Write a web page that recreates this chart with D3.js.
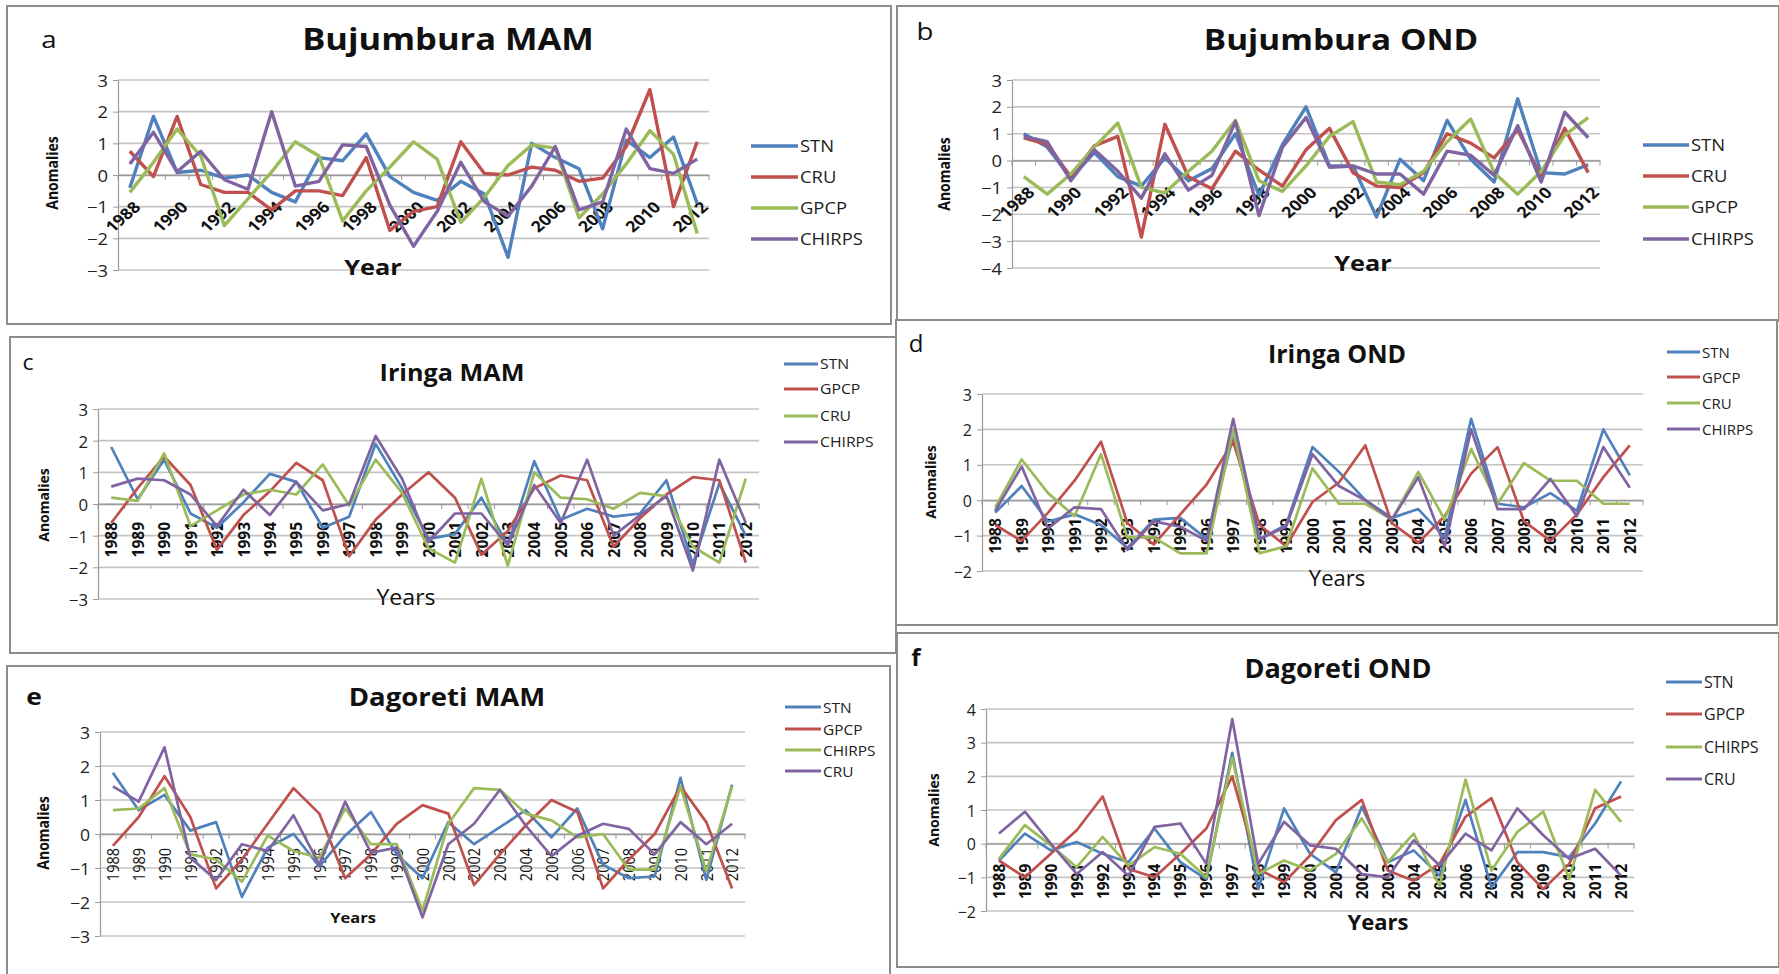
<!DOCTYPE html>
<html>
<head>
<meta charset="utf-8">
<script src="https://cdn.jsdelivr.net/npm/d3@7"></script>
<style>
  html, body { margin: 0; padding: 0; background: #fff; }
  svg { display: block; font-family: "Open Sans", "Liberation Sans", sans-serif; }
</style>
</head>
<body>
<svg id="chart" width="1779" height="974"></svg>
<script>
// Rainfall anomaly series, 1988-2012, for three stations and two seasons
const years = [1988, 1989, 1990, 1991, 1992, 1993, 1994, 1995, 1996, 1997, 1998, 1999, 2000,
               2001, 2002, 2003, 2004, 2005, 2006, 2007, 2008, 2009, 2010, 2011, 2012];
const evenYears = [1988, 1990, 1992, 1994, 1996, 1998, 2000, 2002, 2004, 2006, 2008, 2010, 2012];

// Bujumbura MAM
const bujMamSTN    = [-0.4, 1.85, 0.08, 0.15, -0.1, 0.0, -0.55, -0.85, 0.55, 0.45, 1.3, -0.05, -0.55, -0.8, -0.2, -0.6, -2.6, 1.0, 0.55, 0.2, -1.7, 1.1, 0.55, 1.2, -0.9];
const bujMamCRU    = [0.75, -0.05, 1.85, -0.3, -0.55, -0.55, -1.1, -0.5, -0.5, -0.65, 0.55, -1.75, -1.15, -1.0, 1.05, 0.05, 0.0, 0.25, 0.15, -0.2, -0.1, 0.9, 2.7, -1.0, 1.05];
const bujMamGPCP   = [-0.55, 0.4, 1.45, 0.6, -1.6, -0.75, 0.1, 1.05, 0.6, -1.45, -0.5, 0.25, 1.05, 0.5, -1.5, -0.7, 0.3, 0.95, 0.85, -1.35, -0.6, 0.35, 1.4, 0.65, -1.85];
const bujMamCHIRPS = [0.35, 1.35, 0.1, 0.75, -0.15, -0.45, 2.0, -0.35, -0.2, 0.95, 0.9, -0.95, -2.25, -1.15, 0.4, -0.85, -1.3, -0.35, 0.9, -1.1, -0.85, 1.45, 0.2, 0.05, 0.5];

// Bujumbura OND
const bujOndSTN    = [1.0, 0.5, -0.65, 0.3, -0.6, -0.95, 0.1, -0.75, -0.3, 1.0, -1.3, 0.6, 2.0, -0.2, -0.2, -2.1, 0.05, -0.75, 1.5, 0.05, -0.8, 2.3, -0.45, -0.5, -0.15];
const bujOndCRU    = [0.85, 0.6, -0.6, 0.55, 0.9, -2.85, 1.35, -0.6, -1.05, 0.35, -0.35, -0.95, 0.4, 1.2, -0.45, -0.95, -1.0, -0.45, 1.0, 0.65, 0.1, 1.15, -0.6, 1.2, -0.45];
const bujOndGPCP   = [-0.6, -1.25, -0.5, 0.5, 1.4, -1.0, -1.2, -0.4, 0.35, 1.5, -0.75, -1.15, -0.2, 0.9, 1.45, -0.8, -0.9, -0.4, 0.7, 1.55, -0.45, -1.25, -0.4, 0.95, 1.6];
const bujOndCHIRPS = [0.9, 0.7, -0.75, 0.4, -0.4, -1.4, 0.25, -1.1, -0.55, 1.45, -2.05, 0.5, 1.6, -0.25, -0.2, -0.5, -0.5, -1.25, 0.35, 0.2, -0.55, 1.3, -0.8, 1.8, 0.85];

// Iringa MAM
const irMamSTN    = [1.8, 0.15, 1.4, -0.3, -0.75, 0.05, 0.95, 0.7, -0.75, -0.4, 1.9, 0.5, -1.1, -0.95, 0.2, -1.3, 1.35, -0.5, -0.15, -0.4, -0.3, 0.75, -1.9, 0.65, -1.0];
const irMamGPCP   = [-0.6, 0.5, 1.5, 0.6, -1.45, -0.35, 0.4, 1.3, 0.75, -1.65, -0.5, 0.3, 1.0, 0.2, -1.6, -0.85, 0.5, 0.9, 0.75, -1.35, -0.45, 0.3, 0.85, 0.75, -1.85];
const irMamCRU    = [0.2, 0.1, 1.6, -0.7, -0.2, 0.3, 0.45, 0.3, 1.25, -0.05, 1.4, 0.35, -1.4, -1.85, 0.8, -1.95, 1.0, 0.2, 0.15, -0.15, 0.35, 0.25, -1.35, -1.85, 0.8];
const irMamCHIRPS = [0.55, 0.8, 0.75, 0.3, -0.7, 0.45, -0.35, 0.7, -0.2, 0.0, 2.15, 0.8, -1.2, -0.3, -0.3, -1.3, 0.6, -0.6, 1.4, -1.0, -0.35, 0.25, -2.1, 1.4, -0.6];

// Iringa OND
const irOndSTN    = [-0.35, 0.4, -0.6, -0.4, -0.7, -1.35, -0.55, -0.5, -1.1, 1.8, -1.1, -0.7, 1.5, 0.8, 0.0, -0.5, -0.25, -1.05, 2.3, -0.1, -0.2, 0.2, -0.3, 2.0, 0.7];
const irOndGPCP   = [-0.7, -1.15, -0.35, 0.55, 1.65, -0.65, -1.25, -0.4, 0.45, 1.65, -0.7, -1.3, -0.05, 0.5, 1.55, -0.65, -1.2, -0.45, 0.75, 1.5, -0.6, -1.15, -0.4, 0.65, 1.55];
const irOndCRU    = [-0.2, 1.15, 0.2, -0.45, 1.3, -1.05, -1.05, -1.5, -1.5, 2.0, -1.5, -1.3, 0.9, -0.1, -0.1, -0.55, 0.8, -0.55, 1.45, -0.1, 1.05, 0.55, 0.55, -0.1, -0.1];
const irOndCHIRPS = [-0.3, 0.95, -0.8, -0.2, -0.25, -1.4, -0.6, -0.75, -1.15, 2.3, -1.1, -0.75, 1.3, 0.4, 0.0, -0.55, 0.65, -1.3, 2.0, -0.25, -0.25, 0.6, -0.45, 1.5, 0.35];

// Dagoreti MAM
const dagMamSTN    = [1.8, 0.7, 1.15, 0.1, 0.35, -1.85, -0.4, 0.0, -0.95, -0.05, 0.65, -0.6, -1.3, 0.35, -0.3, 0.2, 0.7, -0.1, 0.75, -0.9, -1.3, -1.25, 1.65, -1.35, 1.45];
const dagMamGPCP   = [-0.35, 0.5, 1.7, 0.5, -1.6, -0.75, 0.3, 1.35, 0.6, -1.3, -0.6, 0.3, 0.85, 0.6, -1.5, -0.6, 0.25, 1.0, 0.65, -1.6, -0.75, 0.0, 1.4, 0.35, -1.6];
const dagMamCHIRPS = [0.7, 0.75, 1.35, -0.6, -0.75, -1.4, -0.05, -0.5, -0.7, 0.75, -0.3, -0.3, -2.25, 0.3, 1.35, 1.3, 0.6, 0.4, -0.1, 0.0, -1.05, -1.05, 1.4, -1.1, 1.4];
const dagMamCRU    = [1.4, 0.95, 2.55, -0.7, -1.35, -0.3, -0.5, 0.55, -0.9, 0.95, -0.55, -0.4, -2.45, -0.3, 0.3, 1.3, 0.25, -0.65, -0.05, 0.3, 0.15, -0.6, 0.35, -0.3, 0.3];

// Dagoreti OND
const dagOndSTN    = [-0.5, 0.3, -0.2, 0.05, -0.3, -0.55, 0.45, -0.55, -1.05, 2.7, -1.35, 1.05, -0.3, -0.85, 1.1, -0.55, -0.2, -0.95, 1.3, -1.3, -0.25, -0.25, -0.4, 0.6, 1.85];
const dagOndGPCP   = [-0.5, -1.0, -0.3, 0.4, 1.4, -0.75, -1.0, -0.3, 0.45, 2.0, -0.75, -1.15, -0.35, 0.7, 1.3, -0.8, -1.1, -0.6, 0.8, 1.35, -0.55, -1.35, -0.6, 1.05, 1.4];
const dagOndCHIRPS = [-0.45, 0.55, -0.05, -0.7, 0.2, -0.65, -0.1, -0.3, -1.0, 2.55, -0.9, -0.5, -0.8, -0.3, 0.75, -0.55, 0.3, -1.25, 1.9, -0.8, 0.35, 0.95, -1.05, 1.6, 0.65];
const dagOndCRU    = [0.3, 0.95, 0.0, -0.9, -0.25, -0.95, 0.5, 0.6, -0.6, 3.7, -0.6, 0.65, -0.05, -0.15, -0.9, -1.0, 0.1, -0.65, 0.3, -0.2, 1.05, 0.25, -0.45, -0.15, -0.95];

// Y-axis tick labels per panel
const ticksA = [-3, -2, -1, 0, 1, 2, 3];
const ticksB = [-4, -3, -2, -1, 0, 1, 2, 3];
const ticksC = [-3, -2, -1, 0, 1, 2, 3];
const ticksD = [-2, -1, 0, 1, 2, 3];
const ticksE = [-3, -2, -1, 0, 1, 2, 3];
const ticksF = [-2, -1, 0, 1, 2, 3, 4];

const COLORS = ["#4F81BD", "#C0504D", "#9BBB59", "#8064A2"];

const panels = [
  { letter: "a", title: "Bujumbura MAM", xTitle: "Year", ticks: ticksA,
    names: ["STN", "CRU", "GPCP", "CHIRPS"], data: [bujMamSTN, bujMamCRU, bujMamGPCP, bujMamCHIRPS],
    frame: [7, 6, 891, 324], plot: [118, 709, 80, 270], sx: 1.15,
    letterPos: [49, 48, 24, "normal"], titlePos: [448, 50, 30, "bold"],
    yLabPos: [52, 173], xTitlePos: [373, 275, 22, "bold"],
    legend: { x0: 751, x1: 798, ys: [146, 177, 208, 239], size: 16, sw: 3.5 },
    xLab: { mode: "diag", years: evenYears, size: 15.5, weight: "bold", dx: 7, dy: 29 },
    lw: 3.4 },
  { letter: "b", title: "Bujumbura OND", xTitle: "Year", ticks: ticksB,
    names: ["STN", "CRU", "GPCP", "CHIRPS"], data: [bujOndSTN, bujOndCRU, bujOndGPCP, bujOndCHIRPS],
    frame: [897, 6, 1779, 321], plot: [1012, 1600, 80, 268], sx: 1.15,
    letterPos: [925, 40, 24, "normal"], titlePos: [1341, 50, 29, "bold"],
    yLabPos: [944, 174], xTitlePos: [1363, 271, 22, "bold"],
    legend: { x0: 1643, x1: 1689, ys: [145, 176, 207, 239], size: 16, sw: 3.5 },
    xLab: { mode: "diag", years: evenYears, size: 15.5, weight: "bold", dx: 7, dy: 29 },
    lw: 3.4 },
  { letter: "c", title: "Iringa MAM", xTitle: "Years", ticks: ticksC,
    names: ["STN", "GPCP", "CRU", "CHIRPS"], data: [irMamSTN, irMamGPCP, irMamCRU, irMamCHIRPS],
    frame: [10, 337, 896, 653], plot: [98, 759, 409, 599], sx: 1.05,
    letterPos: [28, 370, 22, "normal"], titlePos: [452, 381, 24, "bold"],
    yLabPos: [43, 505], xTitlePos: [406, 605, 22, "normal"],
    legend: { x0: 784, x1: 818, ys: [364, 389, 416, 442], size: 15, sw: 3 },
    xLab: { mode: "vert", years: years, size: 15.5, weight: "bold", dy: 18 },
    lw: 2.7 },
  { letter: "d", title: "Iringa OND", xTitle: "Years", ticks: ticksD,
    names: ["STN", "GPCP", "CRU", "CHIRPS"], data: [irOndSTN, irOndGPCP, irOndCRU, irOndCHIRPS],
    frame: [896, 320, 1777, 625], plot: [982, 1643, 394, 571], sx: 1.0,
    letterPos: [916, 352, 24, "normal"], titlePos: [1337, 363, 25, "bold"],
    yLabPos: [930, 482], xTitlePos: [1337, 586, 22, "normal"],
    legend: { x0: 1667, x1: 1700, ys: [352, 377, 403, 429], size: 15, sw: 3 },
    xLab: { mode: "vert", years: years, size: 15.5, weight: "bold", dy: 18 },
    lw: 2.7 },
  { letter: "e", title: "Dagoreti MAM", xTitle: "Years", ticks: ticksE,
    names: ["STN", "GPCP", "CHIRPS", "CRU"], data: [dagMamSTN, dagMamGPCP, dagMamCHIRPS, dagMamCRU],
    frame: [7, 666, 890, 990], plot: [100, 745, 732, 936], sx: 1.1,
    letterPos: [34, 705, 24, "bold"], titlePos: [447, 706, 25, "bold"],
    yLabPos: [43, 833], xTitlePos: [353, 923, 15, "bold"],
    legend: { x0: 785, x1: 821, ys: [707, 729, 750, 771], size: 14, sw: 3 },
    xLab: { mode: "vert", years: years, size: 14.5, weight: "normal", dy: 14 },
    lw: 2.7 },
  { letter: "f", title: "Dagoreti OND", xTitle: "Years", ticks: ticksF,
    names: ["STN", "GPCP", "CHIRPS", "CRU"], data: [dagOndSTN, dagOndGPCP, dagOndCHIRPS, dagOndCRU],
    frame: [897, 633, 1779, 967], plot: [986, 1634, 709, 911], sx: 1.0,
    letterPos: [916, 666, 24, "bold"], titlePos: [1338, 678, 27, "bold"],
    yLabPos: [933, 810], xTitlePos: [1378, 930, 22, "bold"],
    legend: { x0: 1666, x1: 1702, ys: [682, 714, 747, 779], size: 16, sw: 3 },
    xLab: { mode: "vert", years: years, size: 15.5, weight: "bold", dy: 20 },
    lw: 2.7 }
];

const svg = d3.select("#chart");

// Text helper: positioned, horizontally stretched, optionally rotated
function addText(g, x, y, str, o) {
  return g.append("text")
    .attr("transform", `translate(${x},${y}) scale(${o.sx || 1},1) rotate(${o.rot || 0})`)
    .attr("text-anchor", o.anchor || "middle")
    .attr("dominant-baseline", o.baseline || "auto")
    .style("font-size", o.size + "px")
    .style("font-weight", o.weight || "normal")
    .style("fill", o.fill || "#111")
    .text(str);
}

panels.forEach(p => {
  const g = svg.append("g");
  const [fx0, fy0, fx1, fy1] = p.frame;
  g.append("rect")
    .attr("x", fx0).attr("y", fy0)
    .attr("width", fx1 - fx0).attr("height", fy1 - fy0)
    .attr("fill", "#fff").attr("stroke", "#8c8c8c").attr("stroke-width", 2);

  const [x0, x1, yTop, yBot] = p.plot;
  const x = d3.scaleBand().domain(years).range([x0, x1]).padding(0);
  const y = d3.scaleLinear().domain([d3.min(p.ticks), d3.max(p.ticks)]).range([yBot, yTop]);
  const cx = yr => x(yr) + x.bandwidth() / 2;

  // horizontal gridlines
  g.append("g").selectAll("line").data(p.ticks).join("line")
    .attr("x1", x0).attr("x2", x1)
    .attr("y1", d => y(d)).attr("y2", d => y(d))
    .attr("stroke", "#c4c4c4").attr("stroke-width", 1.6);

  // value axis
  const ya = g.append("g").attr("transform", `translate(${x0},0)`)
    .call(d3.axisLeft(y).tickValues(p.ticks).tickSize(5).tickSizeOuter(0).tickFormat(d3.format("d")));
  ya.select(".domain").attr("stroke", "#9a9a9a").attr("stroke-width", 1.2);
  ya.selectAll(".tick line").attr("stroke", "#9a9a9a");
  ya.selectAll(".tick text")
    .attr("x", null).attr("dy", null)
    .attr("dominant-baseline", "central")
    .attr("transform", `translate(-10,0) scale(${p.sx},1)`)
    .style("font-family", "'Open Sans', sans-serif")
    .style("font-size", "16px").style("fill", "#222");

  // category axis along zero line
  const y0 = y(0);
  const xa = g.append("g").attr("transform", `translate(0,${y0})`)
    .call(d3.axisBottom(x).tickValues(p.xLab.years).tickSize(0).tickSizeOuter(0));
  xa.select(".domain").attr("stroke", "#9a9a9a").attr("stroke-width", 1.4);
  xa.selectAll(".tick text")
    .attr("y", null).attr("dy", null)
    .attr("text-anchor", "end")
    .attr("dominant-baseline", "central")
    .style("font-family", "'Open Sans', sans-serif")
    .style("font-size", p.xLab.size + "px")
    .style("font-weight", p.xLab.weight)
    .style("fill", "#111")
    .attr("transform", p.xLab.mode === "diag"
      ? `translate(${p.xLab.dx},${p.xLab.dy}) scale(${p.sx},1) rotate(-45)`
      : `translate(0,${p.xLab.dy}) scale(${p.sx},1) rotate(-90)`);
  // category boundary tick marks
  g.append("g").selectAll("line").data(years.concat(["end"])).join("line")
    .attr("x1", d => d === "end" ? x1 : x(d)).attr("x2", d => d === "end" ? x1 : x(d))
    .attr("y1", y0).attr("y2", y0 + 5)
    .attr("stroke", "#9a9a9a").attr("stroke-width", 1);

  // series lines
  const line = d3.line().x((d, i) => cx(years[i])).y(d => y(d));
  p.data.forEach((vals, k) => {
    g.append("path").datum(vals)
      .attr("d", line)
      .attr("fill", "none")
      .attr("stroke", COLORS[k])
      .attr("stroke-width", p.lw)
      .attr("stroke-linejoin", "round");
  });

  // legend
  p.names.forEach((nm, k) => {
    const ly = p.legend.ys[k];
    g.append("line")
      .attr("x1", p.legend.x0).attr("x2", p.legend.x1)
      .attr("y1", ly).attr("y2", ly)
      .attr("stroke", COLORS[k]).attr("stroke-width", p.legend.sw);
    addText(g, p.legend.x1 + 2, ly, nm, { size: p.legend.size, anchor: "start", baseline: "central", sx: p.sx, fill: "#222" });
  });

  // titles and labels
  addText(g, p.letterPos[0], p.letterPos[1], p.letter, { size: p.letterPos[2], weight: p.letterPos[3], sx: p.sx });
  addText(g, p.titlePos[0], p.titlePos[1], p.title, { size: p.titlePos[2], weight: p.titlePos[3], sx: p.sx });
  addText(g, p.yLabPos[0], p.yLabPos[1], "Anomalies", { size: 14, weight: "bold", rot: -90, baseline: "central", sx: p.sx });
  addText(g, p.xTitlePos[0], p.xTitlePos[1], p.xTitle, { size: p.xTitlePos[2], weight: p.xTitlePos[3], sx: p.sx });
});
</script>
</body>
</html>
